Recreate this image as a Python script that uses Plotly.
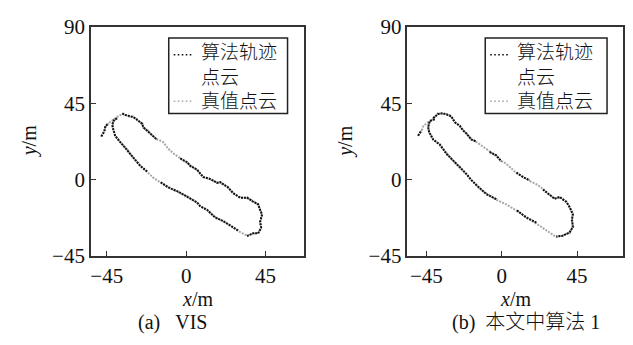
import plotly.graph_objects as go

W, H = 633, 345

# ---------------- data (metres) ----------------
# panel (a) VIS
a_truth_x = [-48.1, -46.4, -45.8, -44.1, -41.9, -39.1, -36.2, -34.5, -32.8, -30.0, -27.7, -24.9, -24.3,
             -21.5, -19.2, -16.4, -13.0, -10.2, -7.4, -3.4, 0.6, 2.3, 6.2, 9.6, 13.6, 17.5, 19.2, 23.8,
             26.6, 30.6, 34.5, 37.9, 40.8, 41.9, 43.0, 41.9, 42.5, 40.8, 37.9, 34.5, 32.3, 29.4, 26.0,
             20.9, 16.4, 11.9, 7.9, 6.2, 0.6, -5.1, -10.2, -14.7, -18.7, -22.1, -26.0, -30.0, -33.4,
             -37.4, -40.2, -41.3, -41.9, -40.8, -39.1]
a_truth_y = [25.4, 28.7, 30.9, 33.1, 34.8, 37.0, 38.6, 38.3, 37.2, 37.2, 34.9, 33.1, 30.4, 28.7, 25.9,
             23.7, 22.1, 18.2, 15.5, 12.7, 9.9, 8.3, 5.5, 1.7, 0.0, -1.7, -1.8, -4.4, -8.3, -10.5, -11.0,
             -12.7, -14.9, -17.7, -21.0, -24.8, -28.7, -31.5, -32.0, -33.1, -32.0, -30.4, -27.6, -24.8,
             -22.1, -18.2, -15.5, -13.8, -9.9, -7.2, -4.4, -1.7, 1.1, 4.4, 8.3, 12.7, 17.7, 22.1, 25.9,
             29.3, 32.6, 34.8, 36.4]
a_alg_x = [-48.1, -46.4, -45.8, -44.1, None, -36.2, -34.5, -32.8, -30.0, -27.7, -24.9, -24.3,
           -21.5, -19.2, -16.4, None, -3.4, 0.6, 2.3, 6.2, 9.6, 13.6, 17.5, 19.2, 23.8,
           26.6, 30.6, 34.5, 37.9, 40.8, 41.9, 43.0, 41.9, 42.5, 40.8, 37.9, 34.5, None, 29.4, 26.0,
           20.9, 16.4, 11.9, 7.9, 6.2, 0.6, -5.1, -10.2, -14.7, None, -22.1, -26.0, -30.0, -33.4,
           -37.4, -40.2, -41.3, -41.9, -40.8, -39.1]
a_alg_y = [25.4, 28.2, 31.3, 33.1, None, 39.0, 38.0, 37.6, 36.8, 35.2, 32.8, 30.8, 28.3, 26.3,
           23.4, None, 12.4, 10.2, 8.0, 5.8, 1.4, 0.3, -2.0, -1.5, -4.8, -8.0, -10.8, -10.7,
           -13.0, -14.6, -18.0, -20.6, -25.1, -28.4, -31.8, -31.7, -33.4, None, -30.1, -27.9,
           -24.5, -22.4, -17.9, -15.8, -13.5, -10.2, -6.9, -4.7, -1.4, None, 4.7, 8.0, 13.0, 17.4,
           22.4, 25.6, 29.6, 32.3, 35.1, 36.1]

# panel (b) proposed algorithm 1
b_truth_x = [-49.9, -47.9, -46.9, -44.9, -40.9, -38.0, -35.0, -32.0, -30.0, -28.0, -25.0, -23.1, -21.0,
             -18.1, -15.1, -11.1, -7.2, -3.2, -0.2, 2.8, 5.8, 8.8, 12.7, 16.7, 20.7, 24.6, 28.6, 31.6,
             34.6, 38.6, 40.5, 42.5, 41.9, 42.5, 40.5, 36.5, 32.6, 28.6, 24.6, 20.7, 14.7, 8.8, 2.8,
             -3.2, -9.1, -14.1, -18.1, -21.0, -25.0, -29.0, -33.0, -36.9, -40.9, -43.3, -43.9, -42.9,
             -39.9]
b_truth_y = [25.8, 28.5, 31.3, 33.1, 35.9, 39.0, 38.6, 38.6, 36.8, 34.1, 31.3, 29.4, 26.7, 23.9, 22.1,
             19.3, 16.6, 13.8, 11.0, 9.2, 6.5, 3.7, 1.8, -0.9, -2.8, -5.5, -9.2, -11.0, -10.7, -12.9,
             -16.6, -20.2, -23.9, -27.6, -31.6, -32.8, -34.0, -31.3, -28.5, -25.8, -22.1, -18.4, -14.7,
             -12.0, -8.3, -4.6, 0.0, 2.8, 7.4, 11.0, 15.6, 20.2, 23.9, 27.6, 31.3, 34.1, 35.9]
b_alg_x = [-49.9, -47.9, None, -40.9, -38.0, -35.0, -32.0, -30.0, -28.0, -25.0, -23.1, -21.0,
           -18.1, -15.1, None, -7.2, -3.2, -0.2, None, 8.8, 12.7, 16.7, None, 24.6, 28.6, 31.6,
           34.6, 38.6, 40.5, 42.5, 41.9, 42.5, 40.5, 36.5, 32.6, None, 20.7, 14.7, 8.8, None,
           -3.2, -9.1, -14.1, -18.1, -21.0, -25.0, -29.0, -33.0, -36.9, -40.9, -43.3, -43.9, -42.9,
           -39.9]
b_alg_y = [25.8, 28.9, None, 36.2, 38.6, 39.1, 38.2, 37.2, 33.7, 31.7, 29.0, 27.1, 23.5, 22.4,
           None, 16.2, 14.2, 10.6, None, 4.1, 1.4, -0.5, None, -5.9, -8.8, -11.4, -10.3, -13.3,
           -16.2, -20.6, -23.5, -28.0, -31.2, -33.2, -33.6, None, -25.4, -22.5, -18.0, None,
           -11.6, -8.7, -4.2, -0.4, 3.2, 7.0, 11.4, 15.2, 20.6, 23.5, 28.0, 30.9, 34.5, 35.5]

x_ticks = [-45, 0, 45]
y_ticks = [-45, 0, 45, 90]
legend_names = ["算法轨迹<br>点云", "真值点云"]
captions = ["(a)\u00a0\u00a0\u00a0VIS", "(b)\u00a0\u00a0本文中算法\u00a01"]
axis_titles = ["<i>x</i>/m", "<i>y</i>/m"]

# ---------------- figure ----------------
SERIF = "Liberation Serif, Times New Roman, Noto Sans CJK SC, serif"
CJK = "Liberation Serif, Noto Sans CJK SC, serif"
BLACK = "#111111"
GRAY = "#a8a8a8"


def px(x):
    return x / W


def py(y):
    return 1 - y / H


fig = go.Figure()

panels = [
    dict(tx=a_truth_x, ty=a_truth_y, ax_=a_alg_x, ay_=a_alg_y, xa="x", ya="y",
         box=(90, 16, 303, 262), xr=[-54.0, 66.5], cap=172),
    dict(tx=b_truth_x, ty=b_truth_y, ax_=b_alg_x, ay_=b_alg_y, xa="x2", ya="y2",
         box=(407, 16, 623, 262), xr=[-56.3, 72.4], cap=526),
]

shapes = []
annotations = []
for i, p in enumerate(panels):
    fig.add_trace(go.Scatter(x=p["tx"], y=p["ty"], mode="lines", xaxis=p["xa"], yaxis=p["ya"],
                             line=dict(color=GRAY, width=2, dash="2px,1.2px"), showlegend=False,
                             name=legend_names[1]))
    fig.add_trace(go.Scatter(x=p["ax_"], y=p["ay_"], mode="lines", xaxis=p["xa"], yaxis=p["ya"],
                             line=dict(color=BLACK, width=2, dash="2px,1px"), showlegend=False,
                             connectgaps=False, name=legend_names[0]))
    l, t, r, b = p["box"]
    sfx = "" if i == 0 else "2"
    axcommon = dict(showgrid=False, zeroline=False, showline=True, mirror=True,
                    linecolor="#333333", linewidth=1.5, ticks="inside", ticklen=5,
                    tickwidth=1.2, tickcolor="#333333",
                    tickfont=dict(family=SERIF, size=21, color="#111111"))
    fig.update_layout(**{
        "xaxis" + sfx: dict(domain=[px(l), px(r)], range=p["xr"], tickvals=x_ticks,
                            anchor="y" + sfx, **axcommon),
        "yaxis" + sfx: dict(domain=[py(b), py(t)], range=[-45, 90], tickvals=y_ticks,
                            anchor="x" + sfx, **axcommon),
    })
    # legend box
    lx0 = l + 78
    lx1 = r - 16
    shapes.append(dict(type="rect", xref="paper", yref="paper", x0=px(lx0), x1=px(lx1),
                       y0=py(109), y1=py(28), line=dict(color="#222222", width=1.5),
                       fillcolor="white", layer="above"))
    shapes.append(dict(type="line", xref="paper", yref="paper", x0=px(lx0 + 5), x1=px(lx0 + 24),
                       y0=py(46), y1=py(46), line=dict(color=BLACK, width=1.6, dash="1.6px,2.4px"),
                       layer="above"))
    shapes.append(dict(type="line", xref="paper", yref="paper", x0=px(lx0 + 5), x1=px(lx0 + 24),
                       y0=py(96), y1=py(96), line=dict(color=GRAY, width=1.6, dash="1.6px,2.4px"),
                       layer="above"))
    annotations.append(dict(xref="paper", yref="paper", x=px(lx0 + 30), y=py(30),
                            xanchor="left", yanchor="top", align="left", showarrow=False,
                            text=legend_names[0],
                            font=dict(family=CJK, size=19, color="#111", weight=300)))
    annotations.append(dict(xref="paper", yref="paper", x=px(lx0 + 30), y=py(96),
                            xanchor="left", yanchor="middle", showarrow=False,
                            text=legend_names[1],
                            font=dict(family=CJK, size=19, color="#111", weight=300)))
    # axis titles
    annotations.append(dict(xref="paper", yref="paper", x=px((l + r) / 2), y=py(308),
                            xanchor="center", yanchor="middle", showarrow=False,
                            text=axis_titles[0], font=dict(family=SERIF, size=20, color="#111")))
    annotations.append(dict(xref="paper", yref="paper", x=px(l - 62), y=py((t + b) / 2),
                            xanchor="center", yanchor="middle", showarrow=False, textangle=-90,
                            text=axis_titles[1], font=dict(family=SERIF, size=20, color="#111")))
    # caption
    annotations.append(dict(xref="paper", yref="paper", x=px(p["cap"]), y=py(334),
                            xanchor="center", yanchor="middle", showarrow=False,
                            text=captions[i],
                            font=dict(family=CJK, size=20, color="#111", weight=300)))

fig.update_layout(width=W, height=H, margin=dict(l=0, r=0, t=0, b=0),
                  paper_bgcolor="white", plot_bgcolor="white", showlegend=False,
                  shapes=shapes, annotations=annotations)

fig.write_html("out.html")
